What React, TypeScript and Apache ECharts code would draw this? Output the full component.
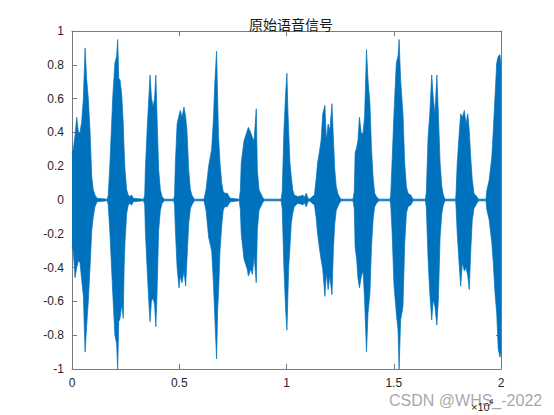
import React, { useEffect, useRef } from "react";
import * as echarts from "echarts";

// sample index (x) of each envelope point
const sampleIdx = [
  0, 60, 140, 220, 300, 370, 450, 530, 610, 680, 760, 840, 920, 990, 1070, 1170, 1650,
  1690, 1770, 1900, 2000, 2080, 2130, 2180, 2240, 2320, 2390, 2430, 2470, 2550, 2620, 2700, 2780, 2860, 3340,
  3390, 3420, 3500, 3580, 3640, 3700, 3780, 3850, 3910, 3960, 4040, 4120, 4200, 4300, 4740,
  4780, 4820, 4900, 4990, 5050, 5130, 5220, 5300, 5360, 5440, 5520, 5590, 5700, 6150,
  6180, 6250, 6370, 6510, 6590, 6660, 6740, 6790, 6830, 6900, 6980, 7050, 7120, 7240, 7320, 7400, 7800,
  7850, 7890, 8020, 8170, 8220, 8330, 8410, 8490, 8590, 8640, 8720, 8800, 8870, 8950, 9750,
  9800, 9880, 9960, 10020, 10060, 10100, 10160, 10220, 10290, 10360, 10520, 10700, 10760, 10830, 10920, 10990, 11060,
  11300, 11380, 11450, 11530, 11610, 11690, 11790, 11860, 11940, 12020, 12120, 12190, 12250, 12320, 12390, 12460, 12550, 13100,
  13160, 13200, 13270, 13330, 13400, 13490, 13570, 13640, 13730, 13800, 13890, 13960, 14040, 14110, 14190, 14300, 14830,
  14860, 14920, 15010, 15120, 15200, 15250, 15320, 15430, 15510, 15590, 15660, 15790, 15900, 16480,
  16520, 16600, 16680, 16770, 16840, 16920, 17010, 17080, 17160, 17240, 17310, 17390, 17880,
  17900, 17960, 18060, 18120, 18200, 18290, 18370, 18450, 18520, 18590, 18660, 18740, 18870, 18950, 19300,
  19330, 19450, 19570, 19640, 19720, 19800, 19870, 19950, 20000,
];

// upper envelope of the waveform at each sample index
const upperEnv = [
  0.28, 0.3, 0.38, 0.49, 0.4, 0.4, 0.46, 0.6, 0.9, 0.72, 0.6, 0.41, 0.14, 0.06, 0.03, 0.01, 0.005,
  0.03, 0.22, 0.61, 0.81, 0.85, 0.95, 0.72, 0.71, 0.62, 0.45, 0.3, 0.18, 0.06, 0.03, 0.02, 0.03, 0.01, 0.005,
  0.03, 0.18, 0.41, 0.6, 0.74, 0.61, 0.55, 0.6, 0.74, 0.51, 0.18, 0.06, 0.02, 0.005, 0.005,
  0.03, 0.22, 0.45, 0.5, 0.53, 0.49, 0.55, 0.49, 0.41, 0.18, 0.06, 0.03, 0.005, 0.005,
  0.02, 0.06, 0.2, 0.3, 0.47, 0.7, 0.88, 0.6, 0.38, 0.22, 0.1, 0.05, 0.04, 0.04, 0.02, 0.01, 0.005,
  0.06, 0.22, 0.35, 0.41, 0.43, 0.4, 0.37, 0.35, 0.54, 0.18, 0.06, 0.04, 0.02, 0.005, 0.005,
  0.05, 0.41, 0.63, 0.75, 0.55, 0.41, 0.22, 0.14, 0.06, 0.03, 0.02, 0.025, 0.03, 0.015, 0.04, 0.015, 0.005,
  0.03, 0.12, 0.22, 0.28, 0.35, 0.51, 0.56, 0.35, 0.45, 0.41, 0.57, 0.35, 0.18, 0.08, 0.04, 0.02, 0.005, 0.005,
  0.05, 0.28, 0.31, 0.35, 0.49, 0.39, 0.4, 0.49, 0.89, 0.71, 0.57, 0.31, 0.13, 0.04, 0.02, 0.005, 0.005,
  0.03, 0.22, 0.51, 0.81, 0.85, 0.95, 0.71, 0.51, 0.22, 0.08, 0.04, 0.03, 0.005, 0.005,
  0.05, 0.37, 0.51, 0.74, 0.61, 0.51, 0.74, 0.51, 0.22, 0.08, 0.03, 0.005, 0.005,
  0.03, 0.22, 0.41, 0.51, 0.49, 0.53, 0.45, 0.51, 0.41, 0.25, 0.12, 0.04, 0.02, 0.005, 0.005,
  0.05, 0.12, 0.25, 0.41, 0.61, 0.81, 0.85, 0.86, 0.8,
];

// lower envelope of the waveform at each sample index
const lowerEnv = [
  -0.28, -0.3, -0.46, -0.4, -0.36, -0.37, -0.47, -0.57, -0.9, -0.75, -0.6, -0.4, -0.18, -0.1, -0.04, -0.01, -0.005,
  -0.03, -0.2, -0.55, -0.8, -0.85, -1.0, -0.72, -0.7, -0.62, -0.7, -0.4, -0.25, -0.08, -0.03, -0.02, -0.03, -0.01, -0.005,
  -0.03, -0.18, -0.4, -0.6, -0.72, -0.6, -0.58, -0.62, -0.75, -0.57, -0.18, -0.06, -0.02, -0.005, -0.005,
  -0.03, -0.18, -0.4, -0.52, -0.45, -0.49, -0.42, -0.51, -0.35, -0.14, -0.05, -0.03, -0.005, -0.005,
  -0.02, -0.06, -0.22, -0.3, -0.48, -0.7, -0.94, -0.65, -0.55, -0.3, -0.15, -0.06, -0.04, -0.04, -0.02, -0.01, -0.005,
  -0.06, -0.2, -0.35, -0.41, -0.45, -0.41, -0.44, -0.33, -0.49, -0.18, -0.06, -0.04, -0.02, -0.005, -0.005,
  -0.05, -0.4, -0.65, -0.77, -0.59, -0.4, -0.28, -0.14, -0.08, -0.04, -0.02, -0.025, -0.03, -0.015, -0.04, -0.015, -0.005,
  -0.03, -0.1, -0.2, -0.28, -0.35, -0.41, -0.57, -0.43, -0.53, -0.45, -0.56, -0.28, -0.14, -0.06, -0.04, -0.02, -0.005, -0.005,
  -0.05, -0.28, -0.35, -0.46, -0.52, -0.45, -0.42, -0.59, -0.9, -0.67, -0.55, -0.28, -0.11, -0.04, -0.02, -0.005, -0.005,
  -0.03, -0.18, -0.5, -0.67, -0.77, -1.0, -0.71, -0.63, -0.26, -0.08, -0.04, -0.03, -0.005, -0.005,
  -0.05, -0.35, -0.55, -0.71, -0.59, -0.63, -0.74, -0.59, -0.22, -0.08, -0.03, -0.005, -0.005,
  -0.03, -0.2, -0.4, -0.51, -0.37, -0.42, -0.4, -0.45, -0.53, -0.3, -0.12, -0.05, -0.02, -0.005, -0.005,
  -0.05, -0.12, -0.25, -0.37, -0.55, -0.67, -0.88, -0.93, -0.9,
];

const xTicks = [0, 5000, 10000, 15000, 20000];
const xTickLabels = ["0", "0.5", "1", "1.5", "2"];
const yTicks = [-1, -0.8, -0.6, -0.4, -0.2, 0, 0.2, 0.4, 0.6, 0.8, 1];
const yTickLabels = ["-1", "-0.8", "-0.6", "-0.4", "-0.2", "0", "0.2", "0.4", "0.6", "0.8", "1"];

const titleText = "原始语音信号";
const exponentBase = "×10";
const exponentPower = "4";
const watermark = "CSDN @WHS_-2022";

const LINE = "#0072BD";
const AXIS = "#7a7a7a";
const TEXT = "#262626";
const FONT = "'Liberation Sans', Arial, sans-serif";

function xLabel(v: number): string {
  const i = xTicks.findIndex((t) => Math.abs(t - v) < 1e-6);
  return i >= 0 ? xTickLabels[i] : "";
}
function yLabel(v: number): string {
  const i = yTicks.findIndex((t) => Math.abs(t - v) < 1e-6);
  return i >= 0 ? yTickLabels[i] : "";
}

export default function App() {
  const ref = useRef<HTMLDivElement>(null);
  useEffect(() => {
    if (!ref.current) return;
    const chart = echarts.init(ref.current, undefined, { renderer: "svg" });
    const upperData = sampleIdx.map((x, i) => [x, upperEnv[i]]);
    const lowerData = sampleIdx.map((x, i) => [x, lowerEnv[i]]);
    const tickCommon = { show: true, inside: true, length: 5, lineStyle: { color: AXIS, width: 1 } };
    const lineCommon = { show: true, onZero: false, lineStyle: { color: AXIS, width: 1 } };
    chart.setOption({
      animation: false,
      backgroundColor: "#ffffff",
      title: {
        text: titleText,
        left: 286,
        textAlign: "center",
        top: 12,
        textStyle: {
          fontSize: 14,
          fontWeight: "normal",
          color: "#1a1a1a",
          fontFamily: "'Noto Sans CJK SC', sans-serif",
        },
      },
      grid: { left: 72, right: 53, top: 31, bottom: 46, containLabel: false },
      xAxis: [
        {
          type: "value",
          min: 0,
          max: 20000,
          interval: 5000,
          position: "bottom",
          axisLine: lineCommon,
          axisTick: tickCommon,
          splitLine: { show: false },
          axisLabel: {
            formatter: xLabel,
            color: TEXT,
            fontSize: 12,
            fontFamily: FONT,
            margin: 8,
            showMinLabel: true,
            showMaxLabel: true,
          },
        },
        {
          type: "value",
          min: 0,
          max: 20000,
          interval: 5000,
          position: "top",
          axisLine: lineCommon,
          axisTick: tickCommon,
          splitLine: { show: false },
          axisLabel: { show: false },
        },
      ],
      yAxis: [
        {
          type: "value",
          min: -1,
          max: 1,
          interval: 0.2,
          position: "left",
          axisLine: lineCommon,
          axisTick: tickCommon,
          splitLine: { show: false },
          axisLabel: {
            formatter: yLabel,
            color: TEXT,
            fontSize: 12,
            fontFamily: FONT,
            margin: 8,
            showMinLabel: true,
            showMaxLabel: true,
          },
        },
        {
          type: "value",
          min: -1,
          max: 1,
          interval: 0.2,
          position: "right",
          axisLine: lineCommon,
          axisTick: tickCommon,
          splitLine: { show: false },
          axisLabel: { show: false },
        },
      ],
      series: [
        {
          type: "line",
          data: upperData,
          xAxisIndex: 0,
          yAxisIndex: 0,
          showSymbol: false,
          symbol: "none",
          lineStyle: { color: LINE, width: 0.7 },
          areaStyle: { color: LINE, opacity: 1, origin: 0 },
          z: 2,
        },
        {
          type: "line",
          data: lowerData,
          xAxisIndex: 0,
          yAxisIndex: 0,
          showSymbol: false,
          symbol: "none",
          lineStyle: { color: LINE, width: 0.7 },
          areaStyle: { color: LINE, opacity: 1, origin: 0 },
          z: 2,
        },
      ],
      graphic: [
        {
          type: "text",
          left: 389,
          top: 392,
          z: 10,
          style: {
            text: watermark,
            fill: "rgba(150,150,150,0.85)",
            font: "16px 'Liberation Sans', Arial, sans-serif",
          },
        },
        {
          type: "text",
          left: 471,
          top: 401,
          z: 11,
          style: { text: exponentBase, fill: TEXT, font: "11px 'Liberation Sans', Arial, sans-serif" },
        },
        {
          type: "text",
          left: 489,
          top: 397,
          z: 11,
          style: { text: exponentPower, fill: TEXT, font: "8px 'Liberation Sans', Arial, sans-serif" },
        },
      ],
    });
    return () => chart.dispose();
  }, []);
  return (
    <div
      ref={ref}
      style={{ position: "absolute", left: 0, top: 0, width: 554, height: 415, background: "#fff" }}
    />
  );
}
